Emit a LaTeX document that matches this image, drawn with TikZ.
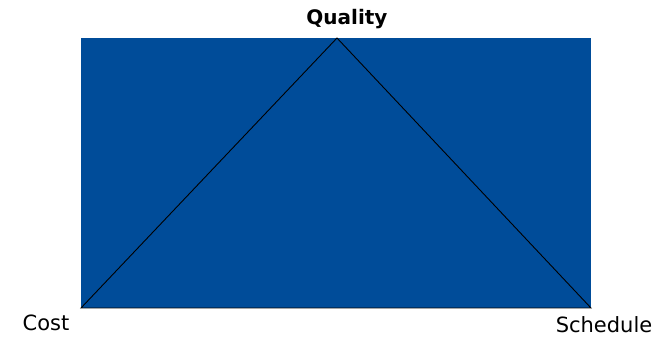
\documentclass[tikz,border=0pt]{standalone}
\usepackage{fontspec}
\setmainfont{DejaVu Sans}
\definecolor{boxblue}{HTML}{004C99}
\begin{document}
\begin{tikzpicture}[x=1pt,y=-1pt,
  lbl/.style={inner sep=0pt, font=\fontsize{21}{24}\selectfont},
  edge/.style={draw=black, line width=0.9pt}]
\useasboundingbox (0,0) rectangle (665,338);
\fill[boxblue] (81,38) rectangle (591,308);
\coordinate (top) at (337,38);
\coordinate (bl) at (81,308);
\coordinate (br) at (591,308);
\draw[edge] (bl) -- (top) -- (br) -- cycle;
\node[lbl, font=\fontsize{20}{24}\selectfont\bfseries] (q) at (347,19) {Quality};
\node[lbl] (c) at (46,323) {Cost};
\node[lbl] (s) at (604,325) {Schedule};
\end{tikzpicture}
\end{document}
